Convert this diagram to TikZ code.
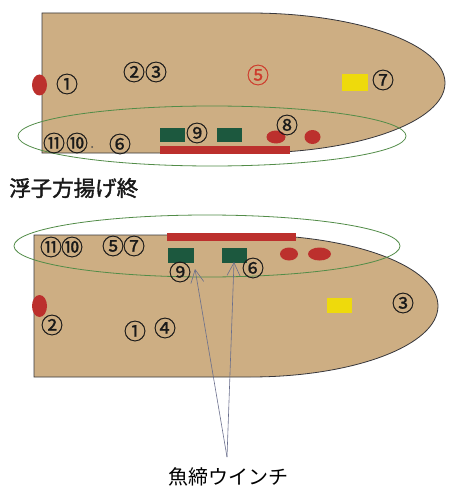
\documentclass[tikz,border=0pt]{standalone}
\usepackage{fontspec}
\usetikzlibrary{arrows.meta}
\newfontfamily\cjk{Noto Sans CJK JP}
\newfontfamily\cjkheavy[FakeBold=1.6]{Noto Sans CJK JP}
\newfontfamily\cjknum[FakeBold=0.8]{Noto Sans CJK JP}
\definecolor{deck}{RGB}{205,174,131}
\definecolor{hullline}{RGB}{55,55,60}
\definecolor{buoy}{RGB}{188,48,45}
\definecolor{winch}{RGB}{28,88,62}
\definecolor{lamp}{RGB}{238,218,12}
\definecolor{zone}{RGB}{82,140,72}
\definecolor{pointer}{RGB}{105,110,140}
\definecolor{mark}{RGB}{205,60,45}
\begin{document}
\begin{tikzpicture}[x=1pt,y=-1pt,
  hull/.style={fill=deck,draw=hullline,line width=0.8pt},
  zonering/.style={draw=zone,line width=0.8pt},
  fender/.style={fill=buoy,draw=none},
  winchbox/.style={fill=winch,draw=none},
  lampbox/.style={fill=lamp,draw=none},
  railbar/.style={fill=buoy,draw=none},
  num/.style={font=\cjknum\fontsize{22}{22}\selectfont,inner sep=0pt,text=black!90},
  rednum/.style={num,text=mark},
  caption/.style={font=\cjk\fontsize{20}{20}\selectfont,inner sep=0pt},
  heading/.style={font=\cjkheavy\fontsize{21.5}{21.5}\selectfont,inner sep=0pt,text=black!90},
  ptr/.style={draw=pointer,line width=0.6pt,-{Straight Barb[length=13pt,width=13pt,line width=0.6pt]}}]
\useasboundingbox (0,0) rectangle (451,500);
\fill[white] (0,0) rectangle (451,500);

% ---- upper hull: float side hauled in ----
\path[hull] (42,13) -- (250,13) arc[start angle=-90,end angle=90,x radius=195,y radius=70] -- (42,153) -- cycle;
\fill[fender] (39.5,85) ellipse[x radius=7.5,y radius=10.5];
\fill[lampbox] (342,74) rectangle (368,91);
\fill[winchbox] (160,128) rectangle (185,142);
\fill[winchbox] (217,128) rectangle (242,142);
\fill[railbar] (160,146) rectangle (290,154);
\fill[fender] (276,137) ellipse[x radius=9.5,y radius=6.5];
\fill[fender] (312.5,137) ellipse[x radius=8,y radius=7];
\draw[zonering] (212,136) ellipse[x radius=194,y radius=30];
\node[num] (a1) at (67,84) {①};
\node[num] (a2) at (134,72) {②};
\node[num] (a3) at (156,72) {③};
\node[rednum] (a5) at (258,75) {⑤};
\node[num] (a7) at (383,80) {⑦};
\node[num] (a11) at (54,143) {⑪};
\node[num] (a10) at (77,143) {⑩};
\fill[black!70] (92,147) circle[radius=1];
\node[num] (a6) at (120,144) {⑥};
\node[num] (a9) at (197,133) {⑨};
\node[num] (a8) at (287,125) {⑧};

\node[heading,anchor=west] (title) at (9,188) {浮子方揚げ終};

% ---- lower hull ----
\path[hull] (34,235) -- (250,235) arc[start angle=-90,end angle=90,x radius=188,y radius=71] -- (34,377) -- cycle;
\fill[railbar] (167,233) rectangle (296,241);
\fill[winchbox] (168,248) rectangle (194,263);
\fill[winchbox] (222,248) rectangle (247,263);
\fill[fender] (289,254) ellipse[x radius=9,y radius=6.5];
\fill[fender] (319.5,254) ellipse[x radius=11.5,y radius=6.5];
\fill[fender] (39.5,306) ellipse[x radius=7.5,y radius=11];
\fill[lampbox] (327,298) rectangle (352,313);
\draw[zonering] (207,246) ellipse[x radius=193,y radius=31];
\node[num] (b11) at (51,247) {⑪};
\node[num] (b10) at (72,247) {⑩};
\node[num] (b5) at (113,246) {⑤};
\node[num] (b7) at (134,246) {⑦};
\node[num] (b9) at (180,272) {⑨};
\node[num] (b6) at (253,268) {⑥};
\node[num] (b2) at (52,325) {②};
\node[num] (b1) at (135,331) {①};
\node[num] (b4) at (165,328) {④};
\node[num] (b3) at (403,303) {③};

% ---- fish-stunning winch callout ----
\node[caption] (winchlabel) at (228,477) {魚締ウインチ};
\coordinate (fork) at (227,457);
\coordinate (tipA) at (195,269);
\coordinate (tipB) at (234,262);
\draw[ptr] (fork) -- (tipA);
\draw[ptr] (fork) -- (tipB);
\end{tikzpicture}
\end{document}
